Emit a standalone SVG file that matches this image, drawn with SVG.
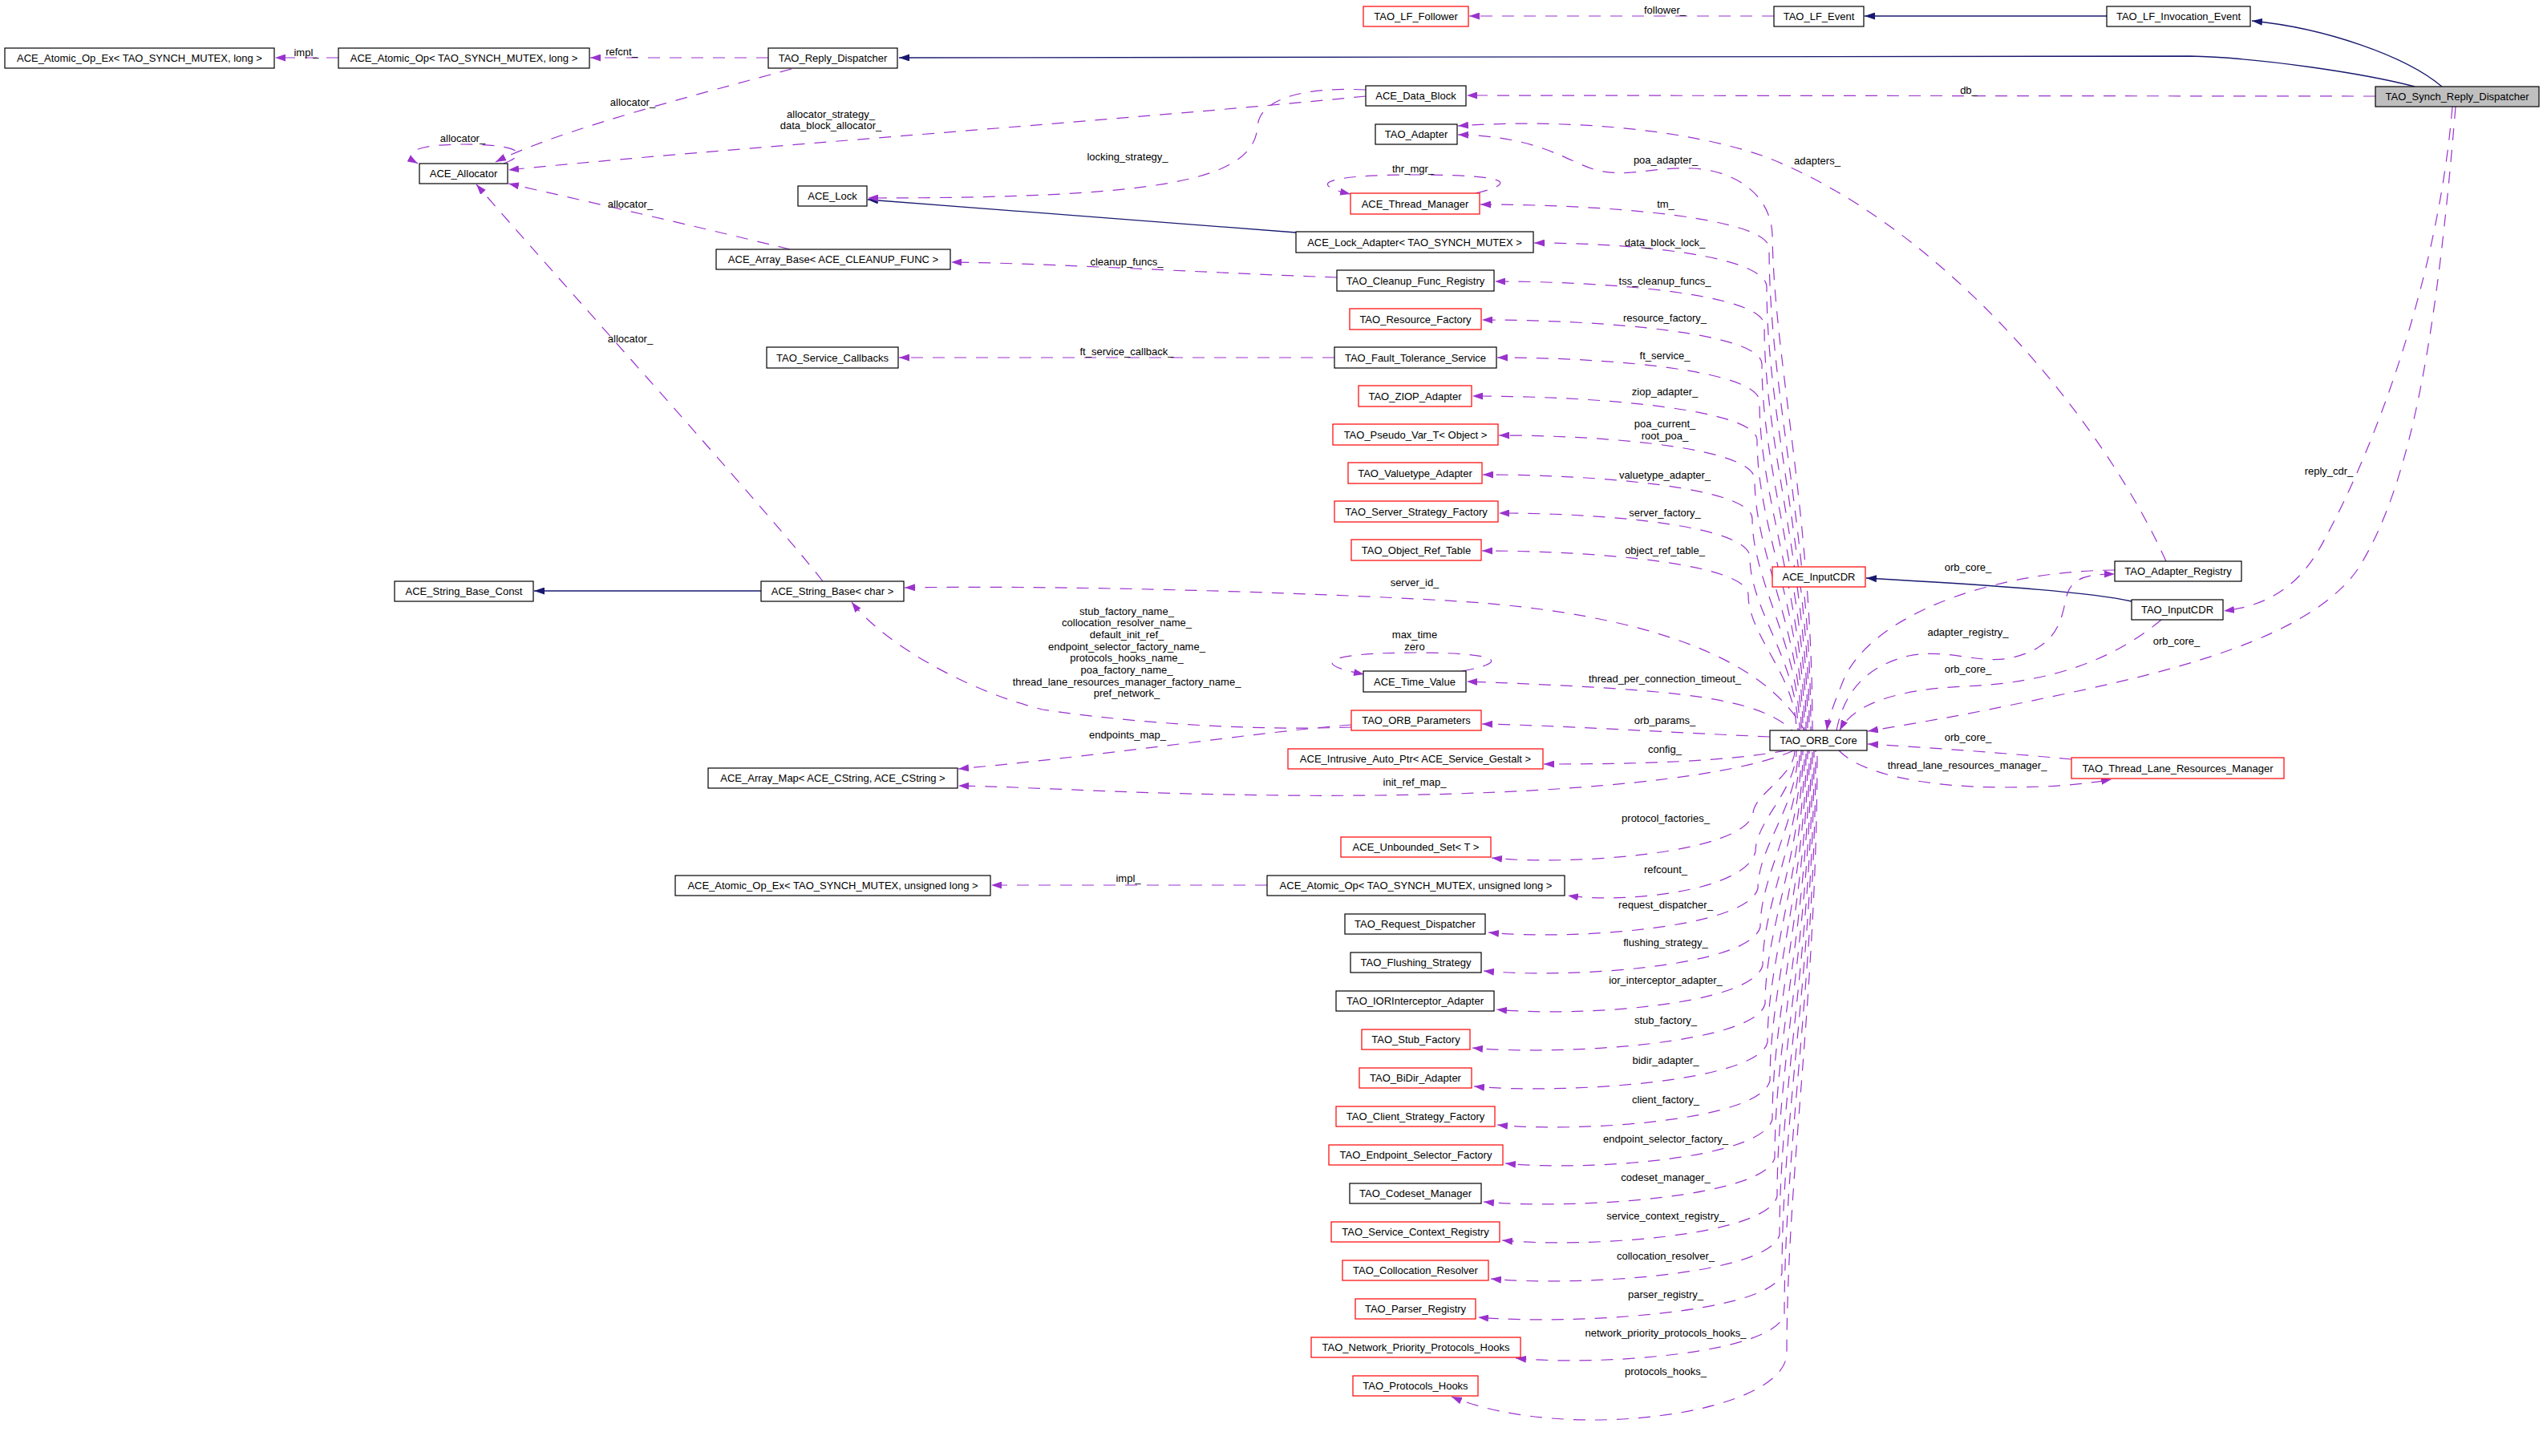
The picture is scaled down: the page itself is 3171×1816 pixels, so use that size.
<svg xmlns="http://www.w3.org/2000/svg" width="3171" height="1816" viewBox="0 0 3171 1816">
<style>
text{font-family:"Liberation Sans",Arial,sans-serif;font-size:13px;fill:#000}
.n rect{fill:#fff;stroke:#000;stroke-width:1.2}
.n.r rect{stroke:#ff0000}
.n.f rect{fill:#bfbfbf}
.n text{text-anchor:middle}
.l{text-anchor:middle}
.d{fill:none;stroke:#9a32cd;stroke-width:1.2;stroke-dasharray:15,12;marker-end:url(#ap)}
.s{fill:none;stroke:#191970;stroke-width:1.3;marker-end:url(#an)}
</style>
<defs>
<marker id="ap" viewBox="0 0 13 9" refX="13" refY="4.5" markerWidth="13" markerHeight="9" orient="auto" markerUnits="userSpaceOnUse"><path d="M0,0 L13,4.5 L0,9 z" fill="#9a32cd"/></marker>
<marker id="an" viewBox="0 0 13 9" refX="13" refY="4.5" markerWidth="13" markerHeight="9" orient="auto" markerUnits="userSpaceOnUse"><path d="M0,0 L13,4.5 L0,9 z" fill="#191970"/></marker>
</defs>
<rect width="3171" height="1816" fill="#fff"/>
<g id="edges">
<path class="s" d="M3011,108 C2950,92 2820,72 2731,70 L1121,72"/>
<path class="s" d="M3045,108 C3000,70 2900,35 2808,26"/>
<path class="s" d="M2627,20 L2325,20"/>
<path class="s" d="M1616,290 L1082,249"/>
<path class="s" d="M949,737 L666,737"/>
<path class="s" d="M2658,750 C2600,737 2450,728 2327,721"/>
<path class="d" d="M422,72 L343,72"/>
<path class="d" d="M958,72 L736,72"/>
<path class="d" d="M987,86 C900,110 700,160 618,202"/>
<path class="d" d="M628,204 C665,190 640,180 578,180 C515,180 500,192 521,204"/>
<path class="d" d="M1703,120 C1400,150 900,185 634,212"/>
<path class="d" d="M1703,112 C1620,108 1568,125 1568,160 C1560,225 1450,247 1082,247"/>
<path class="d" d="M985,311 C900,290 750,255 634,229"/>
<path class="d" d="M1667,346 C1500,340 1300,328 1186,327"/>
<path class="d" d="M1664,446 L1121,446"/>
<path class="d" d="M2962,120 L1829,119"/>
<path class="d" d="M2212,20 L1832,20"/>
<path class="d" d="M1026,725 C960,640 680,330 594,230"/>
<path class="d" d="M1840,241 C1895,228 1880,218 1765,218 C1650,218 1630,230 1684,242"/>
<path class="d" d="M1823,837 C1885,826 1870,814 1765,814 C1655,814 1630,828 1701,841"/>
<path class="d" style="stroke-dashoffset:7" d="M2250,911 C2200,820 2050,765 1820,750 C1600,737 1300,730 1128,733"/>
<path class="d" d="M1685,907 C1550,912 1400,900 1300,885 C1200,860 1100,800 1062,751"/>
<path class="d" d="M1685,904 C1550,915 1400,940 1195,959"/>
<path class="d" d="M2237,936 C2150,975 1900,995 1600,992 C1400,990 1300,982 1195,980"/>
<path class="d" d="M2228,936 C2150,950 2050,953 1925,953"/>
<path class="d" d="M2207,919 C2050,912 1950,905 1848,903"/>
<path class="d" style="stroke-dashoffset:13" d="M2235,911 C2190,870 2100,860 1829,850"/>
<path class="d" style="stroke-dashoffset:3" d="M2260,911 C2260,640 2212,450 2210,293 C2208,240 2160,212 2110,210 C2060,208 2030,222 1990,212 C1955,202 1920,170 1818,168"/>
<path class="d" style="stroke-dashoffset:10" d="M2258,911 C2258,671 2206,490 2206,310 C2206,272 2008,255 1846,255"/>
<path class="d" style="stroke-dashoffset:17" d="M2256,911 C2256,690 2203,524 2203,358 C2203,320 2043,303 1913,303"/>
<path class="d" style="stroke-dashoffset:24" d="M2254,911 C2254,709 2200,558 2200,406 C2200,368 2015,351 1864,351"/>
<path class="d" style="stroke-dashoffset:4" d="M2252,911 C2252,728 2197,591 2197,454 C2197,416 2005,399 1848,399"/>
<path class="d" style="stroke-dashoffset:11" d="M2250,911 C2250,747 2194,624 2194,501 C2194,463 2014,446 1867,446"/>
<path class="d" style="stroke-dashoffset:18" d="M2248,911 C2248,766 2191,658 2191,549 C2191,511 1996,494 1836,494"/>
<path class="d" style="stroke-dashoffset:25" d="M2246,911 C2246,786 2188,692 2188,598 C2188,560 2013,543 1869,543"/>
<path class="d" style="stroke-dashoffset:5" d="M2244,911 C2244,805 2185,726 2185,647 C2185,609 2000,592 1849,592"/>
<path class="d" style="stroke-dashoffset:12" d="M2242,911 C2242,825 2182,760 2182,695 C2182,657 2010,640 1869,640"/>
<path class="d" style="stroke-dashoffset:19" d="M2240,911 C2240,843 2180,793 2180,742 C2180,704 1997,687 1848,687"/>
<path class="d" style="stroke-dashoffset:0" d="M2238,936 C2238,968 2186,991 2186,1015 C2174,1065 1958,1080 1860,1070"/>
<path class="d" style="stroke-dashoffset:7" d="M2240,936 C2240,986 2189,1024 2189,1062 C2177,1112 2025,1127 1955,1117"/>
<path class="d" style="stroke-dashoffset:14" d="M2242,936 C2242,1005 2192,1056 2192,1108 C2180,1158 1957,1173 1856,1163"/>
<path class="d" style="stroke-dashoffset:21" d="M2244,936 C2244,1024 2195,1090 2195,1156 C2183,1206 1954,1221 1850,1211"/>
<path class="d" style="stroke-dashoffset:2" d="M2246,936 C2246,1043 2198,1124 2198,1204 C2186,1254 1966,1269 1866,1259"/>
<path class="d" style="stroke-dashoffset:9" d="M2248,936 C2248,1062 2201,1157 2201,1252 C2189,1302 1946,1317 1836,1307"/>
<path class="d" style="stroke-dashoffset:16" d="M2250,936 C2250,1082 2204,1191 2204,1300 C2192,1350 1948,1365 1838,1355"/>
<path class="d" style="stroke-dashoffset:23" d="M2252,936 C2252,1101 2207,1224 2207,1348 C2195,1398 1969,1413 1867,1403"/>
<path class="d" style="stroke-dashoffset:4" d="M2254,936 C2254,1120 2210,1258 2210,1396 C2198,1446 1977,1461 1877,1451"/>
<path class="d" style="stroke-dashoffset:11" d="M2256,936 C2256,1139 2213,1292 2213,1444 C2201,1494 1959,1509 1850,1499"/>
<path class="d" style="stroke-dashoffset:18" d="M2258,936 C2258,1158 2216,1325 2216,1492 C2204,1542 1976,1557 1873,1547"/>
<path class="d" style="stroke-dashoffset:25" d="M2260,936 C2260,1178 2219,1359 2219,1540 C2207,1590 1967,1605 1859,1595"/>
<path class="d" style="stroke-dashoffset:6" d="M2262,936 C2262,1197 2222,1392 2222,1588 C2210,1638 1957,1653 1843,1643"/>
<path class="d" style="stroke-dashoffset:13" d="M2264,936 C2264,1217 2225,1428 2225,1639 C2213,1689 1990,1704 1890,1694"/>
<path class="d" style="stroke-dashoffset:20" d="M2266,936 C2266,1238 2228,1464 2228,1690 C2221,1765 1950,1800 1810,1742"/>
<path class="d" d="M1580,1104 L1236,1104"/>
<path class="d" d="M2701,700 C2620,520 2420,280 2200,195 C2100,160 1950,148 1818,157"/>
<path class="d" d="M2637,711 C2480,712 2330,770 2298,850 C2288,875 2280,895 2278,911"/>
<path class="d" d="M2290,911 C2300,860 2330,830 2380,818 C2430,808 2470,830 2510,820 C2570,805 2570,770 2578,740 C2585,720 2605,716 2637,716"/>
<path class="d" d="M2695,773 C2640,820 2560,852 2450,856 C2360,860 2310,880 2294,911"/>
<path class="d" d="M3062,133 C3040,400 3010,600 2940,710 C2870,810 2650,850 2480,885 C2420,897 2370,905 2329,912"/>
<path class="d" d="M3058,133 C3040,350 2960,560 2900,670 C2870,730 2830,755 2773,762"/>
<path class="d" d="M2583,947 C2510,940 2400,932 2329,928"/>
<path class="d" d="M2293,936 C2320,965 2400,982 2500,982 C2560,982 2600,978 2633,972"/>
<g id="edge-labels">
<text class="l" x="382" y="70">impl_</text>
<text class="l" x="775" y="69">refcnt_</text>
<text class="l" x="789" y="132">allocator_</text>
<text class="l" x="577" y="177">allocator_</text>
<text class="l" x="1036" y="147">allocator_strategy_</text>
<text class="l" x="1036" y="161">data_block_allocator_</text>
<text class="l" x="1406" y="200">locking_strategy_</text>
<text class="l" x="786" y="259">allocator_</text>
<text class="l" x="1405" y="331">cleanup_funcs_</text>
<text class="l" x="786" y="427">allocator_</text>
<text class="l" x="1405" y="443">ft_service_callback_</text>
<text class="l" x="2076" y="17">follower_</text>
<text class="l" x="2455" y="117">db_</text>
<text class="l" x="2077" y="204">poa_adapter_</text>
<text class="l" x="2266" y="205">adapters_</text>
<text class="l" x="1762" y="215">thr_mgr_</text>
<text class="l" x="2077" y="259">tm_</text>
<text class="l" x="2076" y="307">data_block_lock_</text>
<text class="l" x="2076" y="355">tss_cleanup_funcs_</text>
<text class="l" x="2076" y="401">resource_factory_</text>
<text class="l" x="2076" y="448">ft_service_</text>
<text class="l" x="2076" y="493">ziop_adapter_</text>
<text class="l" x="2076" y="533">poa_current_</text>
<text class="l" x="2076" y="548">root_poa_</text>
<text class="l" x="2076" y="597">valuetype_adapter_</text>
<text class="l" x="2076" y="644">server_factory_</text>
<text class="l" x="2076" y="691">object_ref_table_</text>
<text class="l" x="2904" y="592">reply_cdr_</text>
<text class="l" x="2454" y="712">orb_core_</text>
<text class="l" x="1764" y="731">server_id_</text>
<text class="l" x="1405" y="767">stub_factory_name_</text>
<text class="l" x="1405" y="781">collocation_resolver_name_</text>
<text class="l" x="1405" y="796">default_init_ref_</text>
<text class="l" x="1405" y="811">endpoint_selector_factory_name_</text>
<text class="l" x="1405" y="825">protocols_hooks_name_</text>
<text class="l" x="1405" y="840">poa_factory_name_</text>
<text class="l" x="1405" y="855">thread_lane_resources_manager_factory_name_</text>
<text class="l" x="1405" y="869">pref_network_</text>
<text class="l" x="2454" y="793">adapter_registry_</text>
<text class="l" x="1764" y="796">max_time</text>
<text class="l" x="1764" y="811">zero</text>
<text class="l" x="2714" y="804">orb_core_</text>
<text class="l" x="2454" y="839">orb_core_</text>
<text class="l" x="2076" y="851">thread_per_connection_timeout_</text>
<text class="l" x="2076" y="903">orb_params_</text>
<text class="l" x="1406" y="921">endpoints_map_</text>
<text class="l" x="2454" y="924">orb_core_</text>
<text class="l" x="2076" y="939">config_</text>
<text class="l" x="2453" y="959">thread_lane_resources_manager_</text>
<text class="l" x="1764" y="980">init_ref_map_</text>
<text class="l" x="2077" y="1025">protocol_factories_</text>
<text class="l" x="2077" y="1089">refcount_</text>
<text class="l" x="1407" y="1100">impl_</text>
<text class="l" x="2077" y="1133">request_dispatcher_</text>
<text class="l" x="2077" y="1180">flushing_strategy_</text>
<text class="l" x="2077" y="1227">ior_interceptor_adapter_</text>
<text class="l" x="2077" y="1277">stub_factory_</text>
<text class="l" x="2077" y="1327">bidir_adapter_</text>
<text class="l" x="2077" y="1376">client_factory_</text>
<text class="l" x="2077" y="1425">endpoint_selector_factory_</text>
<text class="l" x="2077" y="1473">codeset_manager_</text>
<text class="l" x="2077" y="1521">service_context_registry_</text>
<text class="l" x="2077" y="1571">collocation_resolver_</text>
<text class="l" x="2077" y="1619">parser_registry_</text>
<text class="l" x="2077" y="1667">network_priority_protocols_hooks_</text>
<text class="l" x="2077" y="1715">protocols_hooks_</text>
</g>
</g>
<g id="n_AtomicOpExLong" class="n"><rect x="6" y="60" width="336" height="25"/><text x="174" y="77">ACE_Atomic_Op_Ex&lt; TAO_SYNCH_MUTEX, long &gt;</text></g>
<g id="n_AtomicOpLong" class="n"><rect x="422" y="60" width="313" height="25"/><text x="578.5" y="77">ACE_Atomic_Op&lt; TAO_SYNCH_MUTEX, long &gt;</text></g>
<g id="n_ReplyDispatcher" class="n"><rect x="958" y="60" width="161" height="25"/><text x="1038.5" y="77">TAO_Reply_Dispatcher</text></g>
<g id="n_LFFollower" class="n r"><rect x="1700" y="8" width="131" height="25"/><text x="1765.5" y="25">TAO_LF_Follower</text></g>
<g id="n_LFEvent" class="n"><rect x="2212" y="8" width="112" height="25"/><text x="2268" y="25">TAO_LF_Event</text></g>
<g id="n_LFInvocationEvent" class="n"><rect x="2627" y="8" width="179" height="25"/><text x="2716.5" y="25">TAO_LF_Invocation_Event</text></g>
<g id="n_SynchReplyDispatcher" class="n f"><rect x="2962" y="108" width="204" height="25"/><text x="3064" y="125">TAO_Synch_Reply_Dispatcher</text></g>
<g id="n_DataBlock" class="n"><rect x="1703" y="107" width="125" height="25"/><text x="1765.5" y="124">ACE_Data_Block</text></g>
<g id="n_Allocator" class="n"><rect x="523" y="204" width="110" height="25"/><text x="578" y="221">ACE_Allocator</text></g>
<g id="n_Adapter" class="n"><rect x="1715" y="155" width="102" height="25"/><text x="1766" y="172">TAO_Adapter</text></g>
<g id="n_Lock" class="n"><rect x="995" y="232" width="86" height="25"/><text x="1038" y="249">ACE_Lock</text></g>
<g id="n_ThreadManager" class="n r"><rect x="1684" y="241" width="161" height="26"/><text x="1764.5" y="259">ACE_Thread_Manager</text></g>
<g id="n_LockAdapter" class="n"><rect x="1616" y="289" width="296" height="26"/><text x="1764" y="307">ACE_Lock_Adapter&lt; TAO_SYNCH_MUTEX &gt;</text></g>
<g id="n_ArrayBaseCleanup" class="n"><rect x="893" y="311" width="292" height="25"/><text x="1039" y="328">ACE_Array_Base&lt; ACE_CLEANUP_FUNC &gt;</text></g>
<g id="n_CleanupFuncRegistry" class="n"><rect x="1667" y="337" width="196" height="26"/><text x="1765" y="355">TAO_Cleanup_Func_Registry</text></g>
<g id="n_ResourceFactory" class="n r"><rect x="1683" y="385" width="164" height="26"/><text x="1765" y="403">TAO_Resource_Factory</text></g>
<g id="n_ServiceCallbacks" class="n"><rect x="956" y="433" width="164" height="26"/><text x="1038" y="451">TAO_Service_Callbacks</text></g>
<g id="n_FaultTolerance" class="n"><rect x="1664" y="433" width="202" height="26"/><text x="1765" y="451">TAO_Fault_Tolerance_Service</text></g>
<g id="n_ZIOPAdapter" class="n r"><rect x="1694" y="481" width="141" height="26"/><text x="1764.5" y="499">TAO_ZIOP_Adapter</text></g>
<g id="n_PseudoVar" class="n r"><rect x="1662" y="529" width="206" height="26"/><text x="1765" y="547">TAO_Pseudo_Var_T&lt; Object &gt;</text></g>
<g id="n_ValuetypeAdapter" class="n r"><rect x="1681" y="577" width="167" height="26"/><text x="1764.5" y="595">TAO_Valuetype_Adapter</text></g>
<g id="n_ServerStrategy" class="n r"><rect x="1664" y="625" width="204" height="26"/><text x="1766" y="643">TAO_Server_Strategy_Factory</text></g>
<g id="n_ObjectRefTable" class="n r"><rect x="1685" y="673" width="162" height="26"/><text x="1766" y="691">TAO_Object_Ref_Table</text></g>
<g id="n_AdapterRegistry" class="n"><rect x="2637" y="700" width="158" height="25"/><text x="2716" y="717">TAO_Adapter_Registry</text></g>
<g id="n_ACEInputCDR" class="n r"><rect x="2210" y="707" width="116" height="25"/><text x="2268" y="724">ACE_InputCDR</text></g>
<g id="n_StringBaseConst" class="n"><rect x="492" y="725" width="173" height="25"/><text x="578.5" y="742">ACE_String_Base_Const</text></g>
<g id="n_StringBaseChar" class="n"><rect x="949" y="725" width="178" height="25"/><text x="1038" y="742">ACE_String_Base&lt; char &gt;</text></g>
<g id="n_TAOInputCDR" class="n"><rect x="2658" y="748" width="114" height="25"/><text x="2715" y="765">TAO_InputCDR</text></g>
<g id="n_TimeValue" class="n"><rect x="1700" y="837" width="128" height="26"/><text x="1764" y="855">ACE_Time_Value</text></g>
<g id="n_ORBParameters" class="n r"><rect x="1685" y="886" width="162" height="25"/><text x="1766" y="903">TAO_ORB_Parameters</text></g>
<g id="n_ORBCore" class="n"><rect x="2207" y="911" width="121" height="25"/><text x="2267.5" y="928">TAO_ORB_Core</text></g>
<g id="n_IntrusiveAutoPtr" class="n r"><rect x="1606" y="934" width="318" height="25"/><text x="1765" y="951">ACE_Intrusive_Auto_Ptr&lt; ACE_Service_Gestalt &gt;</text></g>
<g id="n_ThreadLaneResourcesManager" class="n r"><rect x="2583" y="945" width="265" height="26"/><text x="2715.5" y="963">TAO_Thread_Lane_Resources_Manager</text></g>
<g id="n_ArrayMap" class="n"><rect x="883" y="958" width="311" height="25"/><text x="1038.5" y="975">ACE_Array_Map&lt; ACE_CString, ACE_CString &gt;</text></g>
<g id="n_UnboundedSet" class="n r"><rect x="1672" y="1044" width="187" height="25"/><text x="1765.5" y="1061">ACE_Unbounded_Set&lt; T &gt;</text></g>
<g id="n_AtomicOpExULong" class="n"><rect x="842" y="1092" width="393" height="25"/><text x="1038.5" y="1109">ACE_Atomic_Op_Ex&lt; TAO_SYNCH_MUTEX, unsigned long &gt;</text></g>
<g id="n_AtomicOpULong" class="n"><rect x="1580" y="1092" width="371" height="25"/><text x="1765.5" y="1109">ACE_Atomic_Op&lt; TAO_SYNCH_MUTEX, unsigned long &gt;</text></g>
<g id="n_RequestDispatcher" class="n"><rect x="1677" y="1140" width="175" height="25"/><text x="1764.5" y="1157">TAO_Request_Dispatcher</text></g>
<g id="n_FlushingStrategy" class="n"><rect x="1684" y="1188" width="163" height="25"/><text x="1765.5" y="1205">TAO_Flushing_Strategy</text></g>
<g id="n_IORInterceptorAdapter" class="n"><rect x="1666" y="1236" width="197" height="25"/><text x="1764.5" y="1253">TAO_IORInterceptor_Adapter</text></g>
<g id="n_StubFactory" class="n r"><rect x="1698" y="1284" width="135" height="25"/><text x="1765.5" y="1301">TAO_Stub_Factory</text></g>
<g id="n_BiDirAdapter" class="n r"><rect x="1695" y="1332" width="140" height="25"/><text x="1765" y="1349">TAO_BiDir_Adapter</text></g>
<g id="n_ClientStrategy" class="n r"><rect x="1666" y="1380" width="198" height="25"/><text x="1765" y="1397">TAO_Client_Strategy_Factory</text></g>
<g id="n_EndpointSelector" class="n r"><rect x="1657" y="1428" width="217" height="25"/><text x="1765.5" y="1445">TAO_Endpoint_Selector_Factory</text></g>
<g id="n_CodesetManager" class="n"><rect x="1683" y="1476" width="164" height="25"/><text x="1765" y="1493">TAO_Codeset_Manager</text></g>
<g id="n_ServiceContextRegistry" class="n r"><rect x="1660" y="1524" width="210" height="25"/><text x="1765" y="1541">TAO_Service_Context_Registry</text></g>
<g id="n_CollocationResolver" class="n r"><rect x="1674" y="1572" width="182" height="25"/><text x="1765" y="1589">TAO_Collocation_Resolver</text></g>
<g id="n_ParserRegistry" class="n r"><rect x="1690" y="1620" width="150" height="25"/><text x="1765" y="1637">TAO_Parser_Registry</text></g>
<g id="n_NetworkPriority" class="n r"><rect x="1635" y="1668" width="261" height="25"/><text x="1765.5" y="1685">TAO_Network_Priority_Protocols_Hooks</text></g>
<g id="n_ProtocolsHooks" class="n r"><rect x="1687" y="1716" width="156" height="25"/><text x="1765" y="1733">TAO_Protocols_Hooks</text></g>
</svg>
